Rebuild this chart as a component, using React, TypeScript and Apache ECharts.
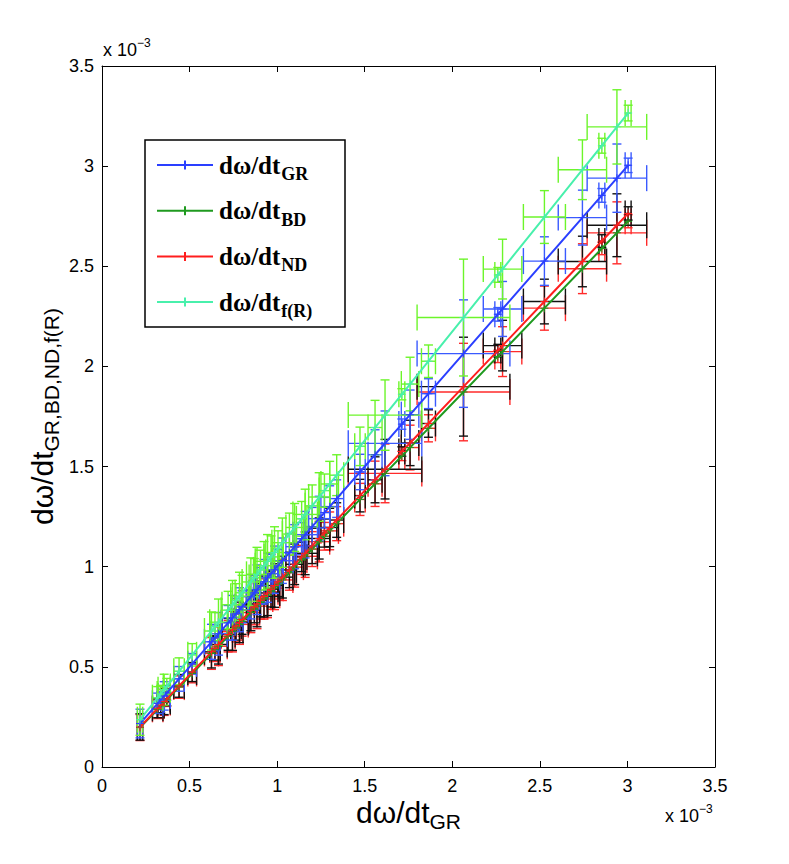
import React, { useEffect, useRef } from "react";
import * as echarts from "echarts";

// x values: dω/dt_GR (units of 1e-3)
const xGR = [0.217, 0.318, 0.335, 0.355, 0.37, 0.44, 0.515, 0.625, 0.645, 0.665, 0.72, 0.745, 0.765, 0.785, 0.8, 0.85, 0.87, 0.885, 0.905, 0.925, 0.945, 0.965, 0.985, 1.005, 1.03, 1.07, 1.1, 1.14, 1.16, 1.2, 1.24, 1.27, 1.3, 1.34, 1.473, 1.559, 1.616, 1.712, 1.759, 1.864, 2.064, 2.26, 2.287, 2.526, 2.743, 2.854, 2.94, 3.004];
const yGR = [0.217, 0.318, 0.335, 0.355, 0.37, 0.44, 0.515, 0.625, 0.645, 0.665, 0.72, 0.745, 0.765, 0.785, 0.8, 0.85, 0.87, 0.885, 0.905, 0.925, 0.945, 0.965, 0.985, 1.005, 1.03, 1.07, 1.1, 1.14, 1.16, 1.2, 1.24, 1.27, 1.3, 1.34, 1.473, 1.559, 1.616, 1.712, 1.759, 1.864, 2.064, 2.26, 2.287, 2.526, 2.743, 2.854, 2.94, 3.004];
const yBD = [0.197, 0.288, 0.304, 0.322, 0.336, 0.399, 0.467, 0.567, 0.585, 0.603, 0.653, 0.676, 0.694, 0.712, 0.726, 0.771, 0.789, 0.803, 0.821, 0.839, 0.857, 0.875, 0.893, 0.912, 0.934, 0.97, 0.998, 1.034, 1.052, 1.088, 1.125, 1.152, 1.179, 1.215, 1.336, 1.414, 1.466, 1.553, 1.595, 1.691, 1.872, 2.05, 2.074, 2.291, 2.488, 2.589, 2.667, 2.725];
const yND = [0.2, 0.293, 0.308, 0.327, 0.34, 0.405, 0.474, 0.575, 0.593, 0.612, 0.662, 0.685, 0.704, 0.722, 0.736, 0.782, 0.8, 0.814, 0.833, 0.851, 0.869, 0.888, 0.906, 0.925, 0.948, 0.984, 1.012, 1.049, 1.067, 1.104, 1.141, 1.168, 1.196, 1.233, 1.355, 1.434, 1.487, 1.575, 1.618, 1.715, 1.899, 2.079, 2.104, 2.324, 2.524, 2.626, 2.705, 2.764];
const yFR = [0.236, 0.346, 0.364, 0.386, 0.402, 0.478, 0.56, 0.679, 0.701, 0.723, 0.783, 0.81, 0.832, 0.853, 0.87, 0.924, 0.946, 0.962, 0.984, 1.005, 1.027, 1.049, 1.071, 1.092, 1.12, 1.163, 1.196, 1.239, 1.261, 1.304, 1.348, 1.38, 1.413, 1.457, 1.601, 1.695, 1.757, 1.861, 1.912, 2.026, 2.244, 2.457, 2.486, 2.746, 2.982, 3.102, 3.196, 3.265];
// horizontal error (absolute, 1e-3) and vertical error (relative to value)
const xErr = [0.015, 0.03, 0.02, 0.035, 0.02, 0.03, 0.025, 0.04, 0.03, 0.05, 0.04, 0.06, 0.03, 0.05, 0.04, 0.05, 0.03, 0.06, 0.04, 0.05, 0.07, 0.04, 0.05, 0.03, 0.06, 0.04, 0.05, 0.03, 0.07, 0.04, 0.06, 0.03, 0.05, 0.04, 0.03, 0.04, 0.21, 0.017, 0.05, 0.04, 0.265, 0.017, 0.11, 0.12, 0.138, 0.017, 0.17, 0.017];
const yErrRel = [0.33, 0.16, 0.12, 0.2, 0.1, 0.14, 0.1, 0.14, 0.1, 0.16, 0.12, 0.15, 0.1, 0.14, 0.1, 0.13, 0.1, 0.14, 0.1, 0.12, 0.13, 0.1, 0.12, 0.08, 0.11, 0.09, 0.1, 0.07, 0.1, 0.08, 0.09, 0.06, 0.08, 0.07, 0.06, 0.08, 0.1, 0.015, 0.07, 0.04, 0.13, 0.015, 0.06, 0.048, 0.05, 0.012, 0.058, 0.012];

const xTickLabels = ["0", "0.5", "1", "1.5", "2", "2.5", "3", "3.5"];
const yTickLabels = ["0", "0.5", "1", "1.5", "2", "2.5", "3", "3.5"];

const legendSubs = ["GR", "BD", "ND", "f(R)"];

const C = {
  grLine: "#2a3fff",
  grBar: "#3a5aff",
  bdLine: "#1f9a1f",
  bdBar: "#ff2a2a",
  ndLine: "#ff1e1e",
  ndBar: "#111111",
  frLine: "#48f0ac",
  frBar: "#6cf52a",
};

function measure(text: string, font: string) {
  const ctx = document.createElement("canvas").getContext("2d")!;
  ctx.font = font;
  return ctx.measureText(text).width;
}

const G = { left: 102, top: 66, width: 613, height: 701 };

export default function App() {
  const ref = useRef<HTMLDivElement>(null);
  useEffect(() => {
    const chart = echarts.init(ref.current!, undefined, { renderer: "svg" });

    const errData = (ys: number[]) =>
      xGR.map((x, i) => [x, ys[i], xErr[i], ys[i] * yErrRel[i]]);

    const errSeries = (name: string, ys: number[], color: string) => ({
      type: "custom",
      name,
      xAxisIndex: 0,
      yAxisIndex: 0,
      z: 2,
      dimensions: ["x", "y", "ex", "ey"],
      encode: { x: 0, y: 1 },
      data: errData(ys),
      renderItem: (params: any, api: any) => {
        const x = api.value(0);
        const y = api.value(1);
        const ex = api.value(2);
        const ey = api.value(3);
        const c = api.coord([x, y]);
        const l = api.coord([x - ex, y]);
        const r = api.coord([x + ex, y]);
        const t = api.coord([x, y + ey]);
        const b = api.coord([x, y - ey]);
        const vc = 4.5;
        const hc = 13;
        const style = { stroke: color, lineWidth: 1.4 };
        return {
          type: "group",
          children: [
            { type: "line", shape: { x1: c[0], y1: t[1], x2: c[0], y2: b[1] }, style },
            { type: "line", shape: { x1: c[0] - vc, y1: t[1], x2: c[0] + vc, y2: t[1] }, style },
            { type: "line", shape: { x1: c[0] - vc, y1: b[1], x2: c[0] + vc, y2: b[1] }, style },
            { type: "line", shape: { x1: l[0], y1: c[1], x2: r[0], y2: c[1] }, style },
            { type: "line", shape: { x1: l[0], y1: c[1] - hc, x2: l[0], y2: c[1] + hc }, style },
            { type: "line", shape: { x1: r[0], y1: c[1] - hc, x2: r[0], y2: c[1] + hc }, style },
          ],
        };
      },
    });

    const plus = "path://M-0.12,-1H0.12V-0.12H1V0.12H0.12V1H-0.12V0.12H-1V-0.12H-0.12Z";
    const lineSeries = (name: string, ys: number[], color: string) => ({
      type: "line",
      name,
      xAxisIndex: 0,
      yAxisIndex: 0,
      z: 3,
      data: xGR.map((x, i) => [x, ys[i]]),
      symbol: plus,
      symbolSize: 8,
      showSymbol: true,
      lineStyle: { color, width: 2 },
      itemStyle: { color },
    });

    // Legend graphic
    const legendColors = [C.grLine, C.bdLine, C.ndLine, C.frLine];
    const lgMainFont = 'bold 25px "Liberation Serif"';
    const lgSubFont = 'bold 18px "Liberation Serif"';
    const lgMainW = measure("dω/dt", lgMainFont);
    const graphics: any[] = [
      {
        type: "rect",
        z: 100,
        shape: { x: 145, y: 140, width: 200, height: 187 },
        style: { fill: "#fff", stroke: "#000", lineWidth: 1.5 },
      },
    ];
    legendSubs.forEach((s, i) => {
      const y = 165 + i * 45.7;
      graphics.push(
        { type: "line", z: 101, shape: { x1: 157, y1: y, x2: 213, y2: y }, style: { stroke: legendColors[i], lineWidth: 2 } },
        { type: "line", z: 101, shape: { x1: 185, y1: y - 4.5, x2: 185, y2: y + 4.5 }, style: { stroke: legendColors[i], lineWidth: 2 } },
        {
          type: "text", z: 101, x: 219, y,
          style: { text: "dω/dt", font: lgMainFont, fill: "#000", textAlign: "left", align: "left", textVerticalAlign: "middle", verticalAlign: "middle" },
        },
        {
          type: "text", z: 101, x: 219 + lgMainW + 1, y: y + 9,
          style: { text: s, font: lgSubFont, fill: "#000", textAlign: "left", align: "left", textVerticalAlign: "middle", verticalAlign: "middle" },
        }
      );
    });

    // Axis titles
    const axMainFont = '30px "Liberation Sans"';
    const axSubFont = '21px "Liberation Sans"';
    const xMainW = measure("dω/dt", axMainFont);
    const xSubW = measure("GR", axSubFont);
    const xStart = G.left + G.width / 2 - (xMainW + xSubW) / 2;
    graphics.push(
      { type: "text", z: 50, x: xStart, y: 812, style: { text: "dω/dt", font: axMainFont, fill: "#000", textAlign: "left", align: "left", textVerticalAlign: "middle", verticalAlign: "middle" } },
      { type: "text", z: 50, x: xStart + xMainW, y: 821, style: { text: "GR", font: axSubFont, fill: "#000", textAlign: "left", align: "left", textVerticalAlign: "middle", verticalAlign: "middle" } }
    );
    const ySub = "GR,BD,ND,f(R)";
    const yMainW = measure("dω/dt", axMainFont);
    const ySubW = measure(ySub, axSubFont);
    const yStart = G.top + G.height / 2 + (yMainW + ySubW) / 2;
    graphics.push(
      { type: "text", z: 50, x: 42, y: yStart, rotation: Math.PI / 2, style: { text: "dω/dt", font: axMainFont, fill: "#000", textAlign: "left", align: "left", textVerticalAlign: "middle", verticalAlign: "middle" } },
      { type: "text", z: 50, x: 42 + 9, y: yStart - yMainW, rotation: Math.PI / 2, style: { text: ySub, font: axSubFont, fill: "#000", textAlign: "left", align: "left", textVerticalAlign: "middle", verticalAlign: "middle" } }
    );
    // Exponent labels
    const expFont = '18px "Liberation Sans"';
    const supFont = '12px "Liberation Sans"';
    const x10W = measure("x 10", expFont);
    graphics.push(
      { type: "text", z: 50, x: 103, y: 50, style: { text: "x 10", font: expFont, fill: "#000", textAlign: "left", align: "left", textVerticalAlign: "middle", verticalAlign: "middle" } },
      { type: "text", z: 50, x: 103 + x10W, y: 43, style: { text: "−3", font: supFont, fill: "#000", textAlign: "left", align: "left", textVerticalAlign: "middle", verticalAlign: "middle" } },
      { type: "text", z: 50, x: 665, y: 816, style: { text: "x 10", font: expFont, fill: "#000", textAlign: "left", align: "left", textVerticalAlign: "middle", verticalAlign: "middle" } },
      { type: "text", z: 50, x: 665 + x10W, y: 809, style: { text: "−3", font: supFont, fill: "#000", textAlign: "left", align: "left", textVerticalAlign: "middle", verticalAlign: "middle" } }
    );

    const axisCommon = {
      type: "value",
      min: 0,
      max: 3.5,
      interval: 0.5,
      splitLine: { show: false },
      axisLine: { show: true, onZero: false, lineStyle: { color: "#000", width: 1 } },
      axisTick: { show: true, inside: true, length: 6, lineStyle: { color: "#000", width: 1 } },
    };
    const labelStyle = { fontSize: 18, color: "#000", fontFamily: '"Liberation Sans"' };

    chart.setOption({
      animation: false,
      backgroundColor: "#fff",
      grid: { left: G.left, top: G.top, width: G.width, height: G.height, containLabel: false },
      xAxis: [
        {
          ...axisCommon,
          position: "bottom",
          axisLabel: { ...labelStyle, margin: 10, formatter: (v: number) => xTickLabels[Math.round(v / 0.5)] },
        },
        { ...axisCommon, position: "top", axisLabel: { show: false } },
      ],
      yAxis: [
        {
          ...axisCommon,
          position: "left",
          axisLabel: { ...labelStyle, margin: 8, formatter: (v: number) => yTickLabels[Math.round(v / 0.5)] },
        },
        { ...axisCommon, position: "right", axisLabel: { show: false } },
      ],
      graphic: { elements: graphics },
      series: [
        errSeries("errBD", yBD, C.bdBar),
        lineSeries("BD", yBD, C.bdLine),
        errSeries("errND", yND, C.ndBar),
        lineSeries("ND", yND, C.ndLine),
        errSeries("errGR", yGR, C.grBar),
        lineSeries("GR", yGR, C.grLine),
        errSeries("errFR", yFR, C.frBar),
        lineSeries("fR", yFR, C.frLine),
      ],
    });
    return () => chart.dispose();
  }, []);
  return (
    <div
      ref={ref}
      style={{ position: "absolute", left: 0, top: 0, width: 789, height: 864, background: "#fff" }}
    />
  );
}
